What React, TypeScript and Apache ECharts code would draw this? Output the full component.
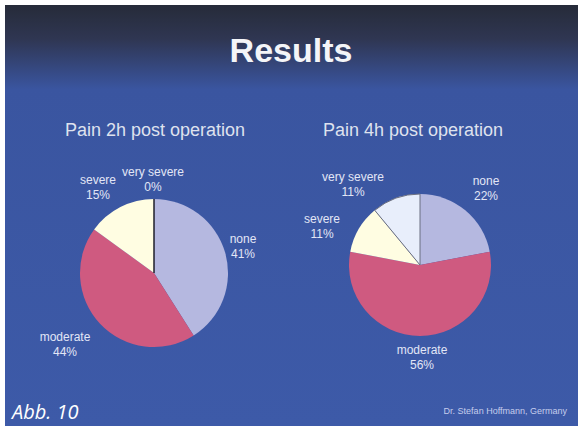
import React, { useEffect, useRef } from "react";
import * as echarts from "echarts";

// ---- data ----
const CATEGORIES = ["none", "moderate", "severe", "very severe"];
const PAIN_2H = [41, 44, 15, 0];
const PAIN_4H = [22, 56, 11, 11];
const CHART_TITLES = ["Pain 2h post operation", "Pain 4h post operation"];
const MAIN_TITLE = "Results";
const FIGURE_LABEL = "Abb. 10";
const FOOTER = "Dr. Stefan Hoffmann, Germany";

// ---- layout / style (not data) ----
const COLORS = ["#b5b8e0", "#cf5a80", "#fffde2", "#e8eefb"];
const LEFT_LABEL_POS = [
  [243, 246],
  [65, 344],
  [98, 187],
  [153, 179],
];
const RIGHT_LABEL_POS = [
  [486, 188],
  [422, 357],
  [322, 226],
  [353, 184],
];
const FONT = "'Liberation Sans', Arial, sans-serif";
const LABEL_COLOR = "#e2e6f6";

export default function App() {
  const ref = useRef<HTMLDivElement>(null);

  useEffect(() => {
    document.body.style.margin = "0";
    if (!ref.current) return;
    const chart = echarts.init(ref.current, undefined, { renderer: "svg" });

    const makeData = (values: number[], borders: (string | null)[]) =>
      values.map((v, i) => ({
        name: CATEGORIES[i],
        value: v,
        itemStyle: {
          color: COLORS[i],
          borderColor: borders[i] || COLORS[i],
          borderWidth: borders[i] ? 1 : 0,
        },
        label: { color: LABEL_COLOR, opacity: 1 },
      }));

    const labelStyle = {
      show: true,
      color: LABEL_COLOR,
      opacity: 1,
      fontSize: 12,
      lineHeight: 15,
      fontFamily: FONT,
      align: "center",
      overflow: "none",
      width: 120,
      textBorderWidth: 0,
      formatter: (p: any) => `${p.name}\n${p.value}%`,
    };

    const option: any = {
      animation: false,
      backgroundColor: "#ffffff",
      graphic: [
        {
          type: "rect",
          z: -10,
          shape: { x: 5, y: 5, width: 573, height: 421 },
          style: {
            fill: new echarts.graphic.LinearGradient(0, 0, 0, 1, [
              { offset: 0, color: "#262b39" },
              { offset: 0.08, color: "#2f3652" },
              { offset: 0.2, color: "#3a55a0" },
              { offset: 1, color: "#3d5aa8" },
            ]),
          },
        },
        {
          type: "text",
          left: "center",
          top: 33,
          style: {
            text: MAIN_TITLE,
            fill: "#f4f5f8",
            font: `bold 34px ${FONT}`,
            shadowColor: "rgba(255,255,255,0.45)",
            shadowBlur: 4,
          },
        },
        {
          type: "text",
          x: 155,
          y: 130,
          style: {
            text: CHART_TITLES[0],
            fill: "#dfe2ee",
            font: `18px ${FONT}`,
            align: "center",
            verticalAlign: "middle",
          },
        },
        {
          type: "text",
          x: 413,
          y: 130,
          style: {
            text: CHART_TITLES[1],
            fill: "#dfe2ee",
            font: `18px ${FONT}`,
            align: "center",
            verticalAlign: "middle",
          },
        },
        {
          type: "text",
          x: 12,
          y: 411,
          style: {
            text: FIGURE_LABEL,
            fill: "#ffffff",
            font: `italic 20px 'Open Sans', sans-serif`,
            verticalAlign: "middle",
          },
        },
        {
          type: "text",
          x: 567,
          y: 411,
          style: {
            text: FOOTER,
            fill: "#c5cdec",
            font: `9px ${FONT}`,
            align: "right",
            verticalAlign: "middle",
          },
        },
      ],
      series: [
        {
          type: "pie",
          center: [154, 273],
          radius: 74,
          startAngle: 90,
          clockwise: true,
          silent: true,
          data: makeData(PAIN_2H, [null, null, null, "#1e1e2a"]),
          label: labelStyle,
          labelLine: { show: false },
          labelLayout: (p: any) => ({
            x: LEFT_LABEL_POS[p.dataIndex][0],
            y: LEFT_LABEL_POS[p.dataIndex][1],
            align: "center",
            verticalAlign: "middle",
          }),
        },
        {
          type: "pie",
          center: [420, 265],
          radius: 71,
          startAngle: 90,
          clockwise: true,
          silent: true,
          data: makeData(PAIN_4H, [null, null, null, "#6b6f80"]),
          label: labelStyle,
          labelLine: { show: false },
          labelLayout: (p: any) => ({
            x: RIGHT_LABEL_POS[p.dataIndex][0],
            y: RIGHT_LABEL_POS[p.dataIndex][1],
            align: "center",
            verticalAlign: "middle",
          }),
        },
      ],
    };

    chart.setOption(option);
    return () => chart.dispose();
  }, []);

  return <div ref={ref} style={{ width: 582, height: 426 }} />;
}
